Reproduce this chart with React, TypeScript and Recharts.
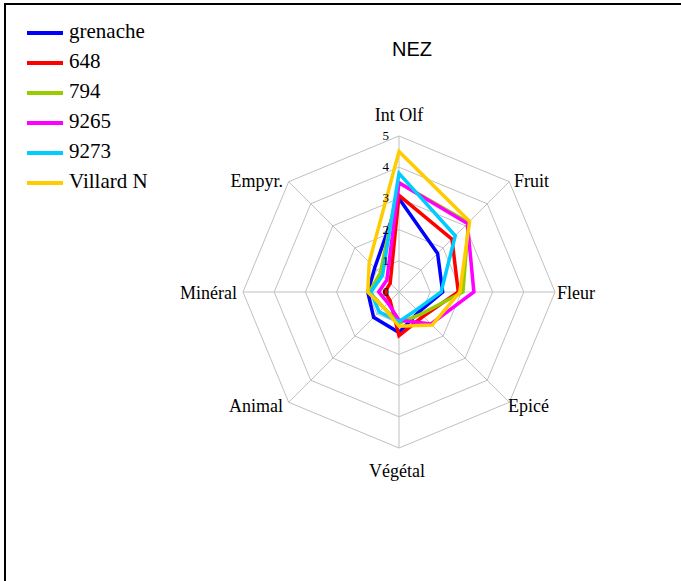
import React from "react";
import { RadarChart, Radar, PolarGrid, PolarAngleAxis, PolarRadiusAxis } from "recharts";

const categories = ["Int Olf", "Fruit", "Fleur", "Epicé", "Végétal", "Animal", "Minéral", "Empyr."];
const grenache = [3.0, 1.75, 1.4, 0.9, 1.3, 1.15, 1.0, 1.1];
const s648 = [3.1, 2.4, 1.9, 1.1, 1.4, 0.4, 0.45, 0.4];
const s794 = [3.5, 3.15, 2.05, 1.0, 1.0, 0.7, 0.95, 0.85];
const s9265 = [3.5, 3.1, 2.4, 1.45, 0.9, 0.5, 0.65, 0.55];
const s9273 = [3.8, 2.55, 1.35, 0.8, 0.95, 0.9, 0.9, 0.75];
const villard = [4.5, 3.2, 1.95, 1.5, 1.1, 0.7, 1.0, 1.35];
const radiusTicks = [0, 1, 2, 3, 4, 5];

const seriesNames = ["grenache", "648", "794", "9265", "9273", "Villard N"];
const seriesValues = [grenache, s648, s794, s9265, s9273, villard];
const seriesColors = ["#0000FF", "#FF0000", "#99CC00", "#FF00FF", "#00CCFF", "#FFCC00"];

const SERIF = "Liberation Serif";

const data = categories.map((c, i) => {
  const row: Record<string, string | number> = { cat: c };
  seriesNames.forEach((n, k) => {
    row[n] = seriesValues[k][i];
  });
  return row;
});

const labelOffsets: Record<string, { dx: number; dy: number; anchor: string }> = {
  "Int Olf": { dx: 0, dy: -7.5, anchor: "middle" },
  Fruit: { dx: -1, dy: 11, anchor: "start" },
  Fleur: { dx: -6, dy: 7, anchor: "start" },
  "Epicé": { dx: -7, dy: 4, anchor: "start" },
  "Végétal": { dx: -2, dy: 20.5, anchor: "middle" },
  Animal: { dx: 0, dy: 4, anchor: "end" },
  "Minéral": { dx: 2, dy: 7, anchor: "end" },
  "Empyr.": { dx: 0, dy: 11, anchor: "end" },
};

const AngleTick = (props: any) => {
  const { x, y, payload } = props;
  const o = labelOffsets[payload.value] || { dx: 0, dy: 0, anchor: "middle" };
  return (
    <text x={x + o.dx} y={y + o.dy} textAnchor={o.anchor as any} fontFamily={SERIF} fontSize={18} fill="#000">
      {payload.value}
    </text>
  );
};

const RadiusTick = (props: any) => {
  const { x, y, payload } = props;
  return (
    <text x={x - 10} y={y + 4} textAnchor="end" fontFamily={SERIF} fontSize={13} fill="#000">
      {payload.value}
    </text>
  );
};

export default function App() {
  return (
    <div style={{ position: "absolute", left: 0, top: 0, width: 681, height: 581, background: "#fff", overflow: "hidden" }}>
      <div
        style={{
          position: "absolute",
          left: 4,
          top: 3,
          width: 720,
          height: 640,
          border: "2px solid #000",
        }}
      />
      <div
        style={{
          position: "absolute",
          left: 352,
          top: 36,
          width: 120,
          textAlign: "center",
          fontFamily: "Liberation Sans",
          fontSize: 20,
          lineHeight: "26px",
          color: "#000",
        }}
      >
        NEZ
      </div>
      <div style={{ position: "absolute", left: 0, top: 0 }}>
        <RadarChart
          width={681}
          height={581}
          data={data}
          cx={399}
          cy={292}
          outerRadius={156}
          margin={{ top: 0, right: 0, bottom: 0, left: 0 }}
        >
          <PolarGrid gridType="polygon" stroke="#c0c0c0" strokeWidth={1} />
          <PolarAngleAxis dataKey="cat" tick={<AngleTick />} tickLine={false} axisLine={false} />
          <PolarRadiusAxis
            angle={90}
            domain={[0, 5]}
            ticks={radiusTicks as any}
            tickCount={6}
            axisLine={false}
            tick={<RadiusTick />}
          />
          {seriesNames.map((n, i) => (
            <Radar
              key={n}
              name={n}
              dataKey={n}
              stroke={seriesColors[i]}
              strokeWidth={3.5}
              fill="none"
              fillOpacity={0}
              dot={false}
              isAnimationActive={false}
            />
          ))}
        </RadarChart>
      </div>
      <div
        style={{
          position: "absolute",
          left: 27,
          top: 18,
          width: 160,
          fontFamily: SERIF,
          fontSize: 21,
          color: "#000",
        }}
      >
        {seriesNames.map((n, i) => (
          <div key={n} style={{ position: "relative", height: 30 }}>
            <div
              style={{
                position: "absolute",
                left: 0,
                top: 13,
                width: 36,
                height: 4,
                background: seriesColors[i],
              }}
            />
            <div
              style={{
                position: "absolute",
                left: 42,
                top: 0,
                lineHeight: "26px",
                whiteSpace: "nowrap",
                fontFamily: SERIF,
              }}
            >
              {n}
            </div>
          </div>
        ))}
      </div>
    </div>
  );
}
